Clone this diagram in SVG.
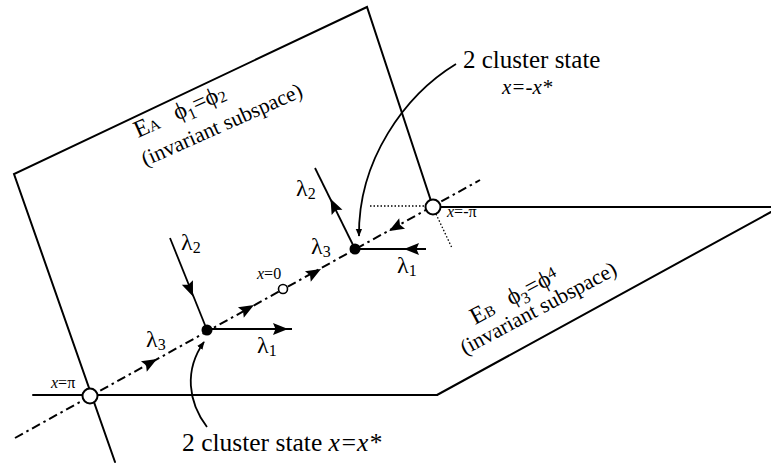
<svg xmlns="http://www.w3.org/2000/svg" width="771" height="466" viewBox="0 0 771 466">
<style>
  .pl{stroke:#000;stroke-width:2;fill:none;stroke-linecap:round}
  .ax{stroke:#000;stroke-width:2;fill:none;stroke-dasharray:9 4 2.5 4}
  .dt{stroke:#000;stroke-width:1.3;fill:none;stroke-dasharray:1.5 2}
  .ln{stroke:#000;stroke-width:1.8;fill:none}
  .t{font-family:"Liberation Serif","Times New Roman",serif;fill:#000}
  .i{font-style:italic}
  .open{fill:#fff;stroke:#000;stroke-width:2}
  .fill{fill:#000}
</style>
<defs>
  <path id="tri" d="M8,0 L-7,-6 L-4.5,0 L-7,6 Z" fill="#000"/>
  <marker id="ah" viewBox="0 0 10 10" refX="9" refY="5" markerWidth="8" markerHeight="8" orient="auto" markerUnits="userSpaceOnUse">
    <path d="M0,1 L10,5 L0,9 Z" fill="#000"/>
  </marker>
</defs>
<rect width="771" height="466" fill="#fff"/>

<g id="planeA">
  <polyline class="pl" points="115,462 14,174 367,7 433,207"/>
</g>
<g id="planeB">
  <line class="pl" x1="433" y1="207" x2="771" y2="207"/>
  <line class="pl" x1="771" y1="212" x2="437" y2="395"/>
  <line class="pl" x1="33" y1="395" x2="437" y2="395"/>
  <line class="dt" x1="370" y1="206" x2="427" y2="206"/>
  <line class="dt" x1="436" y1="214" x2="452" y2="248"/>
</g>

<g id="connectors">
  <line class="ax" x1="15" y1="438" x2="480" y2="180"/>
  <line class="ln" x1="170" y1="238" x2="207" y2="330"/>
  <line class="ln" x1="207" y1="329" x2="292" y2="329"/>
  <line class="ln" x1="315" y1="168" x2="355" y2="249"/>
  <line class="ln" x1="355" y1="249" x2="426" y2="249"/>
  <use href="#tri" transform="translate(190,289) rotate(68)"/>
  <use href="#tri" transform="translate(280,329)"/>
  <use href="#tri" transform="translate(334,206) rotate(-116)"/>
  <use href="#tri" transform="translate(412,249) rotate(180)"/>
  <use href="#tri" transform="translate(150,363) rotate(-29)"/>
  <use href="#tri" transform="translate(247,309) rotate(-29)"/>
  <use href="#tri" transform="translate(314,273) rotate(-29)"/>
  <use href="#tri" transform="translate(396,227) rotate(151)"/>
  <path class="ln" d="M456,64 C405,95 358,160 359,236" marker-end="url(#ah)"/>
  <path class="ln" d="M207,427 C188,402 184,370 204,342" marker-end="url(#ah)"/>
</g>

<g id="pt-pi"><circle class="open" cx="90" cy="396" r="7.5"/></g>
<g id="pt-mpi"><circle class="open" cx="433" cy="207" r="7.5"/></g>
<g id="pt-zero"><circle class="open" cx="283" cy="289" r="4.5" style="stroke-width:1.6"/></g>
<g id="pt-xstar"><circle class="fill" cx="207" cy="330" r="5.5"/></g>
<g id="pt-mxstar"><circle class="fill" cx="355" cy="249" r="5.5"/></g>

<g id="labels" class="t">
  <g transform="translate(138,138) rotate(-24)">
    <text font-size="24">E<tspan font-size="15">A</tspan><tspan x="43">ϕ</tspan><tspan font-size="16" dy="5">1</tspan><tspan dy="-5">=</tspan>ϕ<tspan font-size="16" dy="2">2</tspan></text>
    <text x="-5" y="29" font-size="21.5">(invariant subspace)</text>
  </g>
  <g transform="translate(475,325) rotate(-28)">
    <text font-size="24">E<tspan font-size="15">B</tspan><tspan x="41">ϕ</tspan><tspan font-size="16" dy="5">3</tspan><tspan dy="-5">=</tspan>ϕ<tspan font-size="16" dy="-5">4</tspan></text>
    <text x="-23" y="22" font-size="21.5">(invariant subspace)</text>
  </g>
  <text x="463" y="68" font-size="25">2 cluster state</text>
  <text x="502" y="94" font-size="21" class="i">x=-x*</text>
  <text x="182" y="451" font-size="25.5">2 cluster state <tspan class="i">x=x*</tspan></text>
  <text x="51" y="388" font-size="16"><tspan class="i">x</tspan>=π</text>
  <text x="257" y="279" font-size="16"><tspan class="i">x</tspan>=0</text>
  <text x="447" y="217" font-size="16"><tspan class="i">x</tspan>=-π</text>
  <text x="181" y="250" font-size="24">λ<tspan font-size="16" dy="3">2</tspan></text>
  <text x="146" y="347" font-size="24">λ<tspan font-size="16" dy="3">3</tspan></text>
  <text x="257" y="353" font-size="24">λ<tspan font-size="16" dy="3">1</tspan></text>
  <text x="296" y="196" font-size="24">λ<tspan font-size="16" dy="3">2</tspan></text>
  <text x="311" y="254" font-size="24">λ<tspan font-size="16" dy="3">3</tspan></text>
  <text x="397" y="273" font-size="24">λ<tspan font-size="16" dy="3">1</tspan></text>
</g>
</svg>
